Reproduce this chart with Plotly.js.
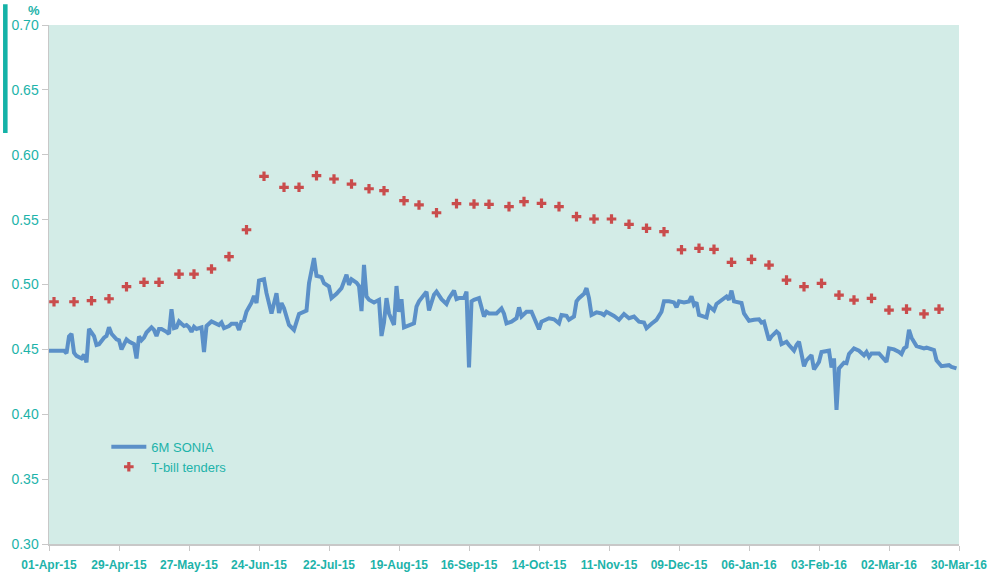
<!DOCTYPE html>
<html>
<head>
<meta charset="utf-8">
<script src="https://cdn.plot.ly/plotly-3.0.1.min.js"></script>
<style>
  html, body { margin: 0; padding: 0; background: #ffffff; }
  #chart { width: 1003px; height: 577px; }
</style>
</head>
<body>
<div id="chart"></div>
<script>
// ---- Data ----
const soniaDates = [
 '2015-04-01','2015-04-07','2015-04-08','2015-04-09','2015-04-10','2015-04-11','2015-04-12','2015-04-14','2015-04-15','2015-04-16',
 '2015-04-17','2015-04-19','2015-04-20','2015-04-21','2015-04-23','2015-04-24','2015-04-25','2015-04-26','2015-04-28','2015-04-29',
 '2015-04-30','2015-05-01','2015-05-02','2015-05-03','2015-05-05','2015-05-06','2015-05-07','2015-05-08','2015-05-09','2015-05-10',
 '2015-05-12','2015-05-13','2015-05-14','2015-05-15','2015-05-16','2015-05-18','2015-05-19','2015-05-20','2015-05-21','2015-05-22',
 '2015-05-23','2015-05-24','2015-05-25','2015-05-26','2015-05-27','2015-05-28','2015-05-29','2015-05-30','2015-05-31','2015-06-01',
 '2015-06-02','2015-06-03','2015-06-05','2015-06-06','2015-06-08','2015-06-09','2015-06-10','2015-06-12','2015-06-13','2015-06-15',
 '2015-06-16','2015-06-17','2015-06-18','2015-06-19','2015-06-21','2015-06-22','2015-06-23','2015-06-24','2015-06-26','2015-06-27',
 '2015-06-29','2015-07-01','2015-07-02','2015-07-03','2015-07-04','2015-07-06','2015-07-08','2015-07-10','2015-07-13','2015-07-14',
 '2015-07-16','2015-07-17','2015-07-19','2015-07-20','2015-07-22','2015-07-23','2015-07-25','2015-07-27','2015-07-29','2015-07-30',
 '2015-07-31','2015-08-02','2015-08-03','2015-08-04','2015-08-05','2015-08-06','2015-08-07','2015-08-09','2015-08-11','2015-08-12',
 '2015-08-13','2015-08-14','2015-08-15','2015-08-17','2015-08-18','2015-08-19','2015-08-20','2015-08-21','2015-08-23','2015-08-25',
 '2015-08-26','2015-08-27','2015-08-30','2015-08-31','2015-09-02','2015-09-03','2015-09-05','2015-09-07','2015-09-08','2015-09-10',
 '2015-09-11','2015-09-12','2015-09-14','2015-09-15','2015-09-16','2015-09-17','2015-09-18','2015-09-20','2015-09-22','2015-09-23',
 '2015-09-24','2015-09-27','2015-09-29','2015-09-30','2015-10-01','2015-10-03','2015-10-05','2015-10-06','2015-10-07','2015-10-09',
 '2015-10-11','2015-10-13','2015-10-14','2015-10-15','2015-10-18','2015-10-20','2015-10-22','2015-10-23','2015-10-25','2015-10-26',
 '2015-10-28','2015-10-29','2015-10-30','2015-11-01','2015-11-02','2015-11-03','2015-11-04','2015-11-06','2015-11-08','2015-11-09',
 '2015-11-10','2015-11-13','2015-11-15','2015-11-17','2015-11-19','2015-11-21','2015-11-23','2015-11-25','2015-11-26','2015-11-28',
 '2015-11-30','2015-12-02','2015-12-03','2015-12-05','2015-12-07','2015-12-08','2015-12-09','2015-12-11','2015-12-13','2015-12-14',
 '2015-12-15','2015-12-16','2015-12-17','2015-12-19','2015-12-20','2015-12-21','2015-12-23','2015-12-24','2015-12-26','2015-12-27',
 '2015-12-28','2015-12-29','2015-12-30','2015-12-31','2016-01-02','2016-01-03','2016-01-04','2016-01-06','2016-01-08','2016-01-10',
 '2016-01-11','2016-01-12','2016-01-14','2016-01-15','2016-01-17','2016-01-18','2016-01-19','2016-01-21','2016-01-22','2016-01-24',
 '2016-01-25','2016-01-26','2016-01-28','2016-01-29','2016-01-31','2016-02-01','2016-02-03','2016-02-04','2016-02-07','2016-02-08',
 '2016-02-09','2016-02-10','2016-02-11','2016-02-12','2016-02-13','2016-02-14','2016-02-15','2016-02-17','2016-02-19','2016-02-21',
 '2016-02-22','2016-02-23','2016-02-24','2016-02-27','2016-02-29','2016-03-01','2016-03-02','2016-03-04','2016-03-06','2016-03-07',
 '2016-03-08','2016-03-09','2016-03-10','2016-03-11','2016-03-13','2016-03-14','2016-03-16','2016-03-17','2016-03-20','2016-03-21',
 '2016-03-23','2016-03-26','2016-03-27','2016-03-29'
];
const soniaValues = [
 0.449,0.449,0.447,0.460,0.462,0.4475,0.445,0.443,0.446,0.440,
 0.4657,0.4603,0.4534,0.454,0.459,0.4603,0.467,0.462,0.4577,0.457,
 0.450,0.4534,0.4577,0.456,0.454,0.443,0.460,0.457,0.459,0.463,
 0.467,0.465,0.4603,0.4657,0.4657,0.4635,0.462,0.481,0.4664,0.467,
 0.4715,0.4697,0.468,0.4688,0.467,0.4635,0.4674,0.4657,0.4664,0.467,
 0.448,0.468,0.4715,0.4707,0.4688,0.4707,0.4664,0.468,0.4697,0.4697,
 0.465,0.4715,0.4722,0.4792,0.486,0.4912,0.4857,0.503,0.504,0.4933,
 0.4777,0.4933,0.478,0.4857,0.4818,0.4688,0.465,0.4773,0.4798,0.501,
 0.5204,0.5067,0.5057,0.501,0.4984,0.4895,0.4928,0.4972,0.5075,0.4997,
 0.504,0.5014,0.4988,0.4795,0.5151,0.4908,0.4882,0.4862,0.4882,0.4603,
 0.4707,0.4895,0.4777,0.4688,0.4988,0.479,0.4887,0.467,0.4688,0.4701,
 0.4829,0.487,0.4945,0.480,0.4922,0.4945,0.4887,0.485,0.4895,0.4953,
 0.4887,0.4895,0.4895,0.4945,0.436,0.487,0.4882,0.4895,0.4753,0.479,
 0.4777,0.4777,0.4815,0.4775,0.4701,0.4714,0.474,0.4824,0.4753,0.479,
 0.479,0.4701,0.4655,0.4714,0.474,0.4732,0.4701,0.4765,0.4758,0.4728,
 0.4753,0.487,0.4895,0.4928,0.4972,0.4895,0.4765,0.4785,0.4777,0.4765,
 0.479,0.4758,0.4728,0.4773,0.474,0.4753,0.4714,0.4707,0.4663,0.4697,
 0.4728,0.479,0.487,0.487,0.4862,0.4824,0.487,0.4862,0.487,0.4908,
 0.4843,0.4862,0.4765,0.4753,0.4747,0.4834,0.480,0.485,0.4875,0.4887,
 0.4908,0.4882,0.4953,0.487,0.4862,0.4857,0.4777,0.472,0.4728,0.4732,
 0.4707,0.4714,0.457,0.460,0.4638,0.462,0.454,0.4559,0.4534,0.449,
 0.4534,0.4559,0.437,0.4416,0.4455,0.4345,0.4404,0.448,0.449,0.436,
 0.443,0.4033,0.4354,0.438,0.4397,0.4393,0.4464,0.4508,0.449,0.4455,
 0.448,0.4442,0.4469,0.4469,0.443,0.4404,0.4508,0.450,0.448,0.4464,
 0.4508,0.452,0.465,0.459,0.4525,0.452,0.4508,0.4513,0.4495,0.4416,
 0.437,0.4378,0.4365,0.4354
];
const tbillDates = [
 '2015-04-03','2015-04-11','2015-04-18','2015-04-25','2015-05-02','2015-05-09','2015-05-15','2015-05-23','2015-05-29','2015-06-05',
 '2015-06-12','2015-06-19','2015-06-26','2015-07-04','2015-07-10','2015-07-17','2015-07-24','2015-07-31','2015-08-07','2015-08-13',
 '2015-08-21','2015-08-27','2015-09-03','2015-09-11','2015-09-18','2015-09-24','2015-10-02','2015-10-08','2015-10-15','2015-10-22',
 '2015-10-29','2015-11-05','2015-11-12','2015-11-19','2015-11-26','2015-12-03','2015-12-10','2015-12-17','2015-12-23','2015-12-30',
 '2016-01-07','2016-01-14','2016-01-21','2016-01-28','2016-02-04','2016-02-11','2016-02-17','2016-02-24','2016-03-02','2016-03-09',
 '2016-03-16','2016-03-22'
];
const tbillValues = [
 0.4867,0.4867,0.4875,0.489,0.4983,0.5017,0.5017,0.508,0.508,0.512,
 0.5215,0.5422,0.5834,0.5749,0.5749,0.5839,0.5813,0.5774,0.5738,0.5723,
 0.5646,0.5613,0.5553,0.5623,0.562,0.5618,0.560,0.5639,0.5626,0.560,
 0.5523,0.5505,0.5505,0.5464,0.5433,0.5407,0.5268,0.5279,0.5271,0.5171,
 0.5194,0.515,0.5034,0.4983,0.5009,0.4918,0.488,0.4893,0.4803,0.481,
 0.4773,0.481
];
const seriesNames = ['6M SONIA', 'T-bill tenders'];
const xRange = ['2015-04-01', '2016-03-30'];
const yRange = [0.30, 0.70];
const yUnit = '%';

const teal = '#1db3aa';
const font = 'Liberation Sans, Arial, Helvetica, sans-serif';

const traces = [
  {
    type: 'scatter', mode: 'lines', name: seriesNames[0],
    x: soniaDates, y: soniaValues,
    line: { color: '#5b90c8', width: 4, shape: 'linear' },
    hoverinfo: 'x+y'
  },
  {
    type: 'scatter', mode: 'markers', name: seriesNames[1],
    x: tbillDates, y: tbillValues,
    marker: { symbol: 'cross', size: 8, color: '#c94c4c', line: { width: 0 } },
    hoverinfo: 'x+y'
  }
];

const layout = {
  width: 1003, height: 577,
  margin: { l: 49, r: 44, t: 25, b: 33, pad: 0 },
  paper_bgcolor: '#ffffff',
  plot_bgcolor: '#d3ece7',
  font: { family: font, color: teal, size: 13 },
  showlegend: true,
  legend: {
    x: 0.063, y: 0.216, xanchor: 'left', yanchor: 'top',
    bgcolor: 'rgba(0,0,0,0)', borderwidth: 0,
    font: { family: font, size: 13, color: teal },
    tracegroupgap: 0, itemwidth: 35
  },
  xaxis: {
    type: 'date',
    range: xRange,
    tick0: '2015-04-01',
    dtick: 28 * 86400000,
    tickformat: '%d-%b-%y',
    ticks: 'outside', ticklen: 5, tickwidth: 1, tickcolor: '#c8c8c8',
    showline: true, linecolor: '#c8c8c8', linewidth: 1.5,
    showgrid: false, zeroline: false,
    tickfont: { family: font, size: 12, color: teal, weight: 'bold' },
    ticklabelstandoff: 4,
    fixedrange: true
  },
  yaxis: {
    range: yRange,
    dtick: 0.05,
    tickformat: '.2f',
    ticks: 'outside', ticklen: 6, tickwidth: 1, tickcolor: '#c8c8c8',
    showline: true, linecolor: '#c8c8c8', linewidth: 1.5,
    showgrid: false, zeroline: false,
    tickfont: { family: font, size: 14, color: teal },
    ticklabelstandoff: 0,
    fixedrange: true
  },
  shapes: [
    {
      type: 'rect', xref: 'paper', yref: 'paper',
      x0: -0.0505, x1: -0.0455, y0: 0.792, y1: 1.04,
      fillcolor: '#14b2a7', line: { width: 0 }, layer: 'above'
    }
  ],
  annotations: [
    {
      text: yUnit, xref: 'paper', yref: 'paper',
      x: -0.017, y: 1.0093, xanchor: 'center', yanchor: 'bottom',
      showarrow: false, font: { family: font, size: 13, color: teal, weight: 'bold' }
    }
  ]
};

Plotly.newPlot('chart', traces, layout, { displayModeBar: false, staticPlot: true });
</script>
</body>
</html>
